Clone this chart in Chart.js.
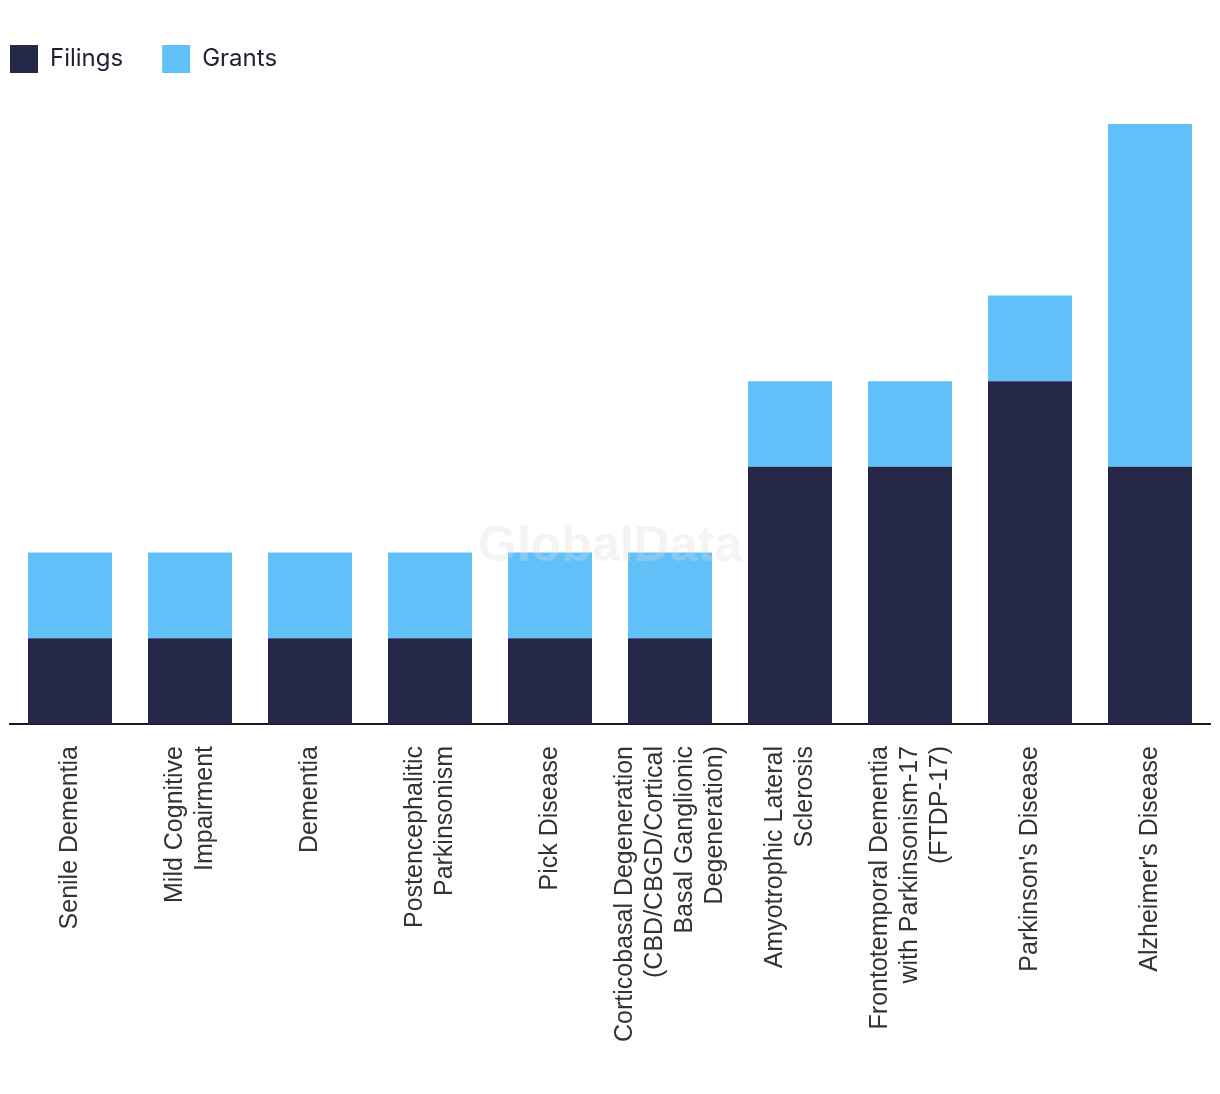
<!DOCTYPE html>
<html>
<head>
<meta charset="utf-8">
<script src="https://cdn.jsdelivr.net/npm/chart.js@4/dist/chart.umd.min.js"></script>
<style>
  html, body { margin: 0; padding: 0; background: #fff; }
  #wrap { width: 1220px; height: 1094px; position: relative; }
</style>
</head>
<body>
<div id="wrap"><canvas id="myBarChart"></canvas></div>
<script>
var categories = [
    'Senile Dementia',
    ['Mild Cognitive', 'Impairment'],
    'Dementia',
    ['Postencephalitic', 'Parkinsonism'],
    'Pick Disease',
    ['Corticobasal Degeneration', '(CBD/CBGD/Cortical', 'Basal Ganglionic', 'Degeneration)'],
    ['Amyotrophic Lateral', 'Sclerosis'],
    ['Frontotemporal Dementia', 'with Parkinsonism-17', '(FTDP-17)'],
    "Parkinson's Disease",
    "Alzheimer's Disease"
];
var filings = [1, 1, 1, 1, 1, 1, 3, 3, 4, 3];
var grants = [1, 1, 1, 1, 1, 1, 1, 1, 1, 4];

// faint logo text over the bars
var watermark = {
    id: 'watermark',
    afterDatasetsDraw: function (chart) {
        var ctx = chart.ctx;
        var area = chart.chartArea;
        ctx.save();
        ctx.font = 'bold 50px "Liberation Sans", sans-serif';
        ctx.fillStyle = 'rgba(220, 220, 220, 0.3)';
        ctx.textAlign = 'center';
        ctx.textBaseline = 'middle';
        ctx.fillText('GlobalData', (area.left + area.right) / 2, 547);
        ctx.restore();
    }
};

// pull the legend up to the left edge, above the plot
var legendShift = {
    id: 'legendShift',
    afterLayout: function (chart) {
        var lg = chart.legend;
        var pad = lg.options.labels.padding;
        lg.left = 10 - pad;
        lg.top = 45 - pad;
    }
};

// center multi-line rotated labels on their bar
var centerLabels = {
    id: 'centerLabels',
    beforeDraw: function (chart) {
        var items = chart.scales.x.getLabelItems();
        items.forEach(function (item) {
            var n = Array.isArray(item.label) ? item.label.length : 1;
            var lh = item.font.lineHeight;
            item.textOffset = lh / 2 - (n - 1) * lh / 2;
        });
    }
};

var chart = document.getElementById('myBarChart');
if (chart) {
    var ctx = chart.getContext('2d');
    var myBarChart = new Chart(ctx, {
        type: 'bar',
        data: {
            labels: categories,
            datasets: [{
                label: 'Filings',
                data: filings,
                backgroundColor: '#26284a',
                barPercentage: 0.7,
                categoryPercentage: 1.0
            }, {
                label: 'Grants',
                data: grants,
                backgroundColor: '#62c0f8',
                barPercentage: 0.7,
                categoryPercentage: 1.0
            }]
        },
        options: {
            animation: false,
            responsive: true,
            maintainAspectRatio: false,
            layout: {
                padding: { left: 10, right: 10, top: 47, bottom: 30 }
            },
            plugins: {
                legend: {
                    align: 'start',
                    labels: {
                        boxWidth: 28,
                        boxHeight: 28,
                        padding: 39,
                        color: '#1f1f33',
                        font: { family: 'Inter, sans-serif', size: 24 }
                    }
                },
                tooltip: { enabled: false }
            },
            scales: {
                x: {
                    stacked: true,
                    grid: { display: false, drawTicks: false },
                    border: { display: true, color: '#1a1a2e', width: 2 },
                    ticks: {
                        autoSkip: false,
                        maxRotation: 90,
                        minRotation: 90,
                        padding: 22,
                        color: '#333',
                        font: { family: '"Liberation Sans", sans-serif', size: 25, lineHeight: 1.2 }
                    }
                },
                y: {
                    stacked: true,
                    display: false,
                    min: 0,
                    max: 7
                }
            }
        },
        plugins: [watermark, legendShift, centerLabels]
    });
}
</script>
</body>
</html>
